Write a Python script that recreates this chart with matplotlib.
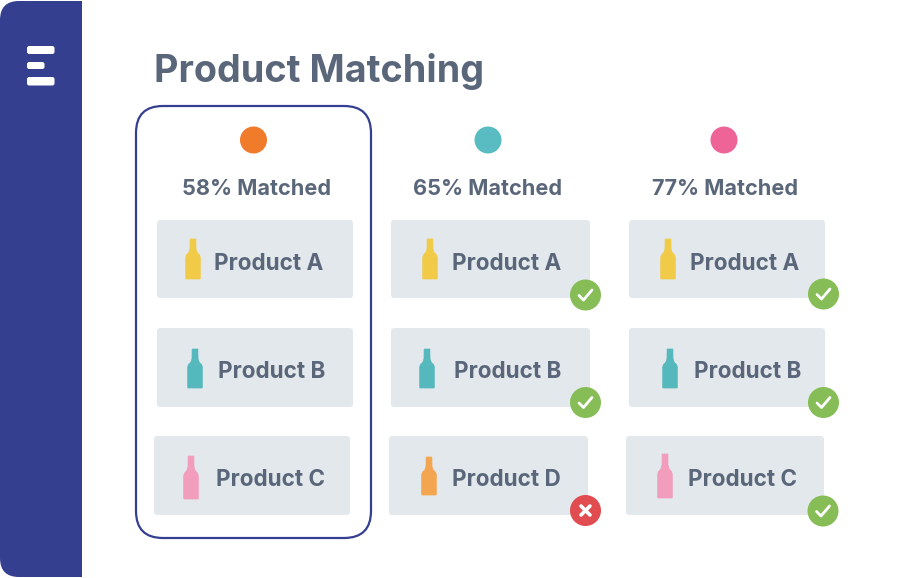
import matplotlib
matplotlib.use("Agg")
import matplotlib.pyplot as plt
from matplotlib.patches import FancyBboxPatch, Circle, Polygon, Rectangle

plt.rcParams['font.family'] = ['Inter', 'DejaVu Sans']

# ====== contents ======
TITLE = "Product Matching"
match_labels = ["58% Matched", "65% Matched", "77% Matched"]
product_labels = [
    ["Product A", "Product B", "Product C"],
    ["Product A", "Product B", "Product D"],
    ["Product A", "Product B", "Product C"],
]
# None = no badge, True = tick, False = cross
match_state = [
    [None, None, None],
    [True, True, False],
    [True, True, True],
]

# ====== colours ======
NAVY = "#343f90"
SLATE = "#5a6679"
CARD = "#e3e8ec"
GREEN = "#86bd57"
RED = "#e04c50"
dot_colors = ["#ef7b2b", "#58bcc2", "#ef6497"]
bottle_colors = {"Product A": "#f1cb47", "Product B": "#55b8bd",
                 "Product C": "#f29dbb", "Product D": "#f4a54f"}

# ====== layout (pixels) ======
dot_x = [253.5, 488, 724]
match_x = [256.5, 487.5, 725]
card_boxes = [
    [(157, 220, 353, 298), (157, 328, 353, 407), (154, 436, 350, 515)],
    [(391, 220, 590, 298), (391, 328, 590, 407), (389, 436, 588, 515)],
    [(629, 220, 825, 298), (629, 328, 825, 407), (626, 436, 824, 515)],
]
bottle_x = [[193, 195, 191], [430, 427, 429], [668, 670, 665]]
bottle_y = [[(239, 279), (349, 388), (456, 499)],
            [(239, 279), (349, 388), (457, 495)],
            [(239, 279), (349, 388), (454, 498)]]
text_x = [[214, 218.5, 215.5], [451.5, 453.5, 452.5], [690.5, 693.5, 688.5]]
text_y = [263.5, 372, 480.5]
badge_xy = [[None, None, None],
            [(585.5, 295), (585.5, 402.5), (585.5, 510.5)],
            [(823.5, 294), (823.5, 402.5), (823, 511)]]

fig = plt.figure(figsize=(9, 5.78), dpi=100)
ax = fig.add_axes([0, 0, 1, 1])
ax.set_xlim(0, 900)
ax.set_ylim(578, 0)
ax.axis('off')


def rbox(x0, y0, x1, y1, r, **kw):
    p = FancyBboxPatch((x0 + r, y0 + r), x1 - x0 - 2*r, y1 - y0 - 2*r,
                       boxstyle=f"round,pad={r},rounding_size={r}", **kw)
    ax.add_patch(p)
    return p


def draw_bottle(cx, top, bot, color):
    h = bot - top
    # half widths against height fraction
    prof = [(0, 2.9), (0.25, 3.0), (0.34, 4.2), (0.40, 6.6), (0.46, 7.3), (0.98, 7.3), (1.0, 7.0)]
    right = [(cx + v, top + f*h) for f, v in prof]
    left = [(cx - v, top + f*h) for f, v in reversed(prof)]
    ax.add_patch(Polygon(right + left, closed=True, fc=color, ec=color, lw=0.5, zorder=3))


# sidebar: rounded on the left corners only
side = rbox(0, 1, 110, 577, 19, fc=NAVY, ec='none', zorder=1)
side.set_clip_path(Rectangle((0, 0), 82, 578, transform=ax.transData))
for y0, y1, x1 in [(46, 54, 54.5), (62, 69, 44.5), (77, 85.5, 54.5)]:
    rbox(27, y0, x1, y1, 2.2, fc='white', ec='none', zorder=2)

ax.text(154, 72, TITLE, fontsize=27.2, fontweight='bold', color=SLATE,
        va='center', ha='left')

# selection frame
rbox(136, 106, 371, 538, 27, fc='none', ec=NAVY, lw=1.6, zorder=2)

for c in range(3):
    ax.add_patch(Circle((dot_x[c], 140), 13.5, fc=dot_colors[c], ec='none', zorder=3))
    ax.text(match_x[c], 189, match_labels[c], fontsize=15.6, fontweight='bold',
            color=SLATE, ha='center', va='center')
    for r in range(3):
        x0, y0, x1, y1 = card_boxes[c][r]
        rbox(x0, y0, x1, y1, 3.5, fc=CARD, ec='none', zorder=2)
        name = product_labels[c][r]
        draw_bottle(bottle_x[c][r], *bottle_y[c][r], bottle_colors[name])
        ax.text(text_x[c][r], text_y[r], name, fontsize=16.2, fontweight='bold',
                color=SLATE, ha='left', va='center', zorder=3)
        state = match_state[c][r]
        if state is None:
            continue
        bx, by = badge_xy[c][r]
        ax.add_patch(Circle((bx, by), 15.5, fc=GREEN if state else RED, ec='none', zorder=4))
        if state:
            ax.plot([bx - 6.5, bx - 2, bx + 6.5], [by + 0.5, by + 5, by - 5], color='white',
                    lw=2.0, solid_capstyle='round', solid_joinstyle='round', zorder=5)
        else:
            ax.plot([bx - 4.5, bx + 4.5], [by - 4.5, by + 4.5], color='white', lw=2.6,
                    solid_capstyle='round', zorder=5)
            ax.plot([bx - 4.5, bx + 4.5], [by + 4.5, by - 4.5], color='white', lw=2.6,
                    solid_capstyle='round', zorder=5)

fig.savefig("out.png", dpi=100)
